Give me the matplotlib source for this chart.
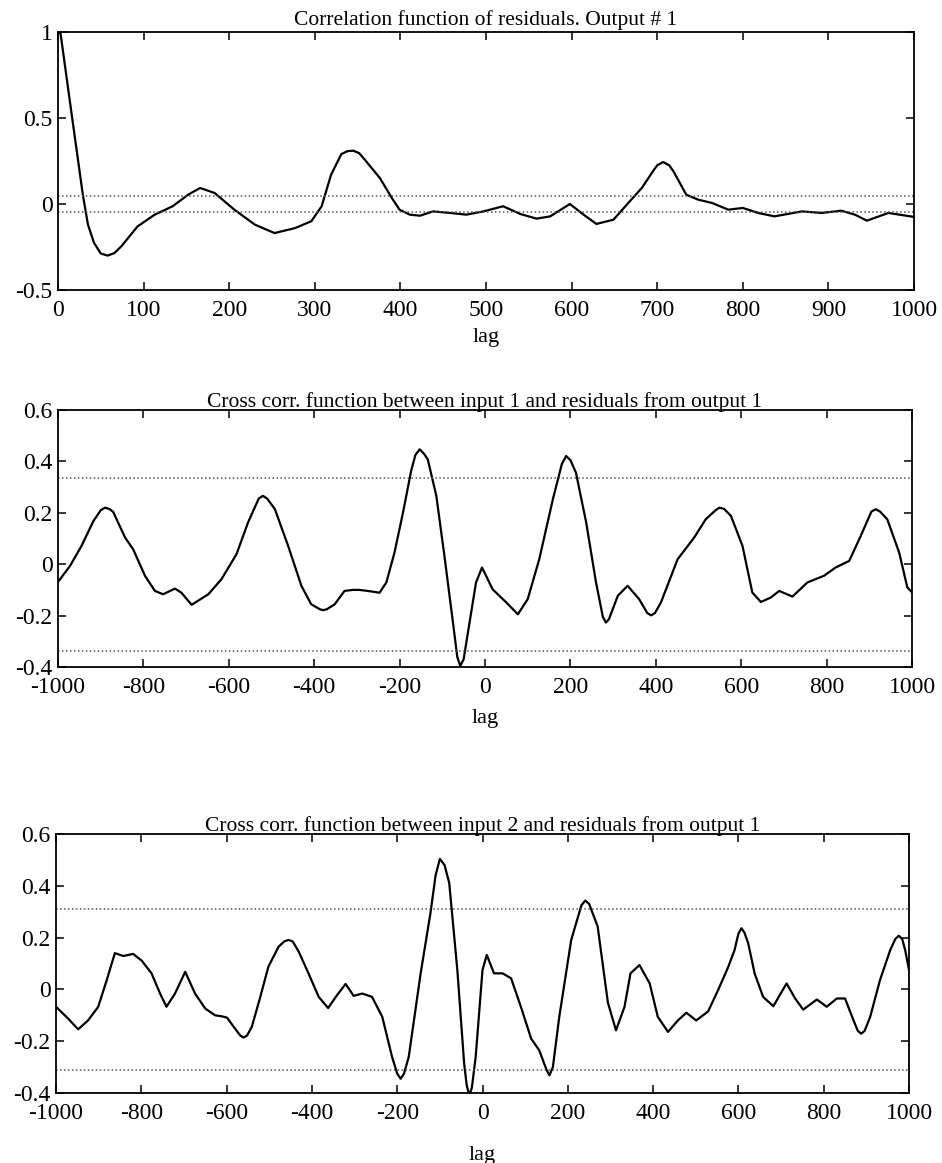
import matplotlib
matplotlib.use("Agg")
import matplotlib.pyplot as plt

plt.rcParams['font.family'] = ['Liberation Serif', 'DejaVu Serif']
plt.rcParams['axes.unicode_minus'] = False

# ---------------- data ----------------
titles = ["Correlation function of residuals. Output # 1",
          "Cross corr. function between input 1 and residuals from output 1",
          "Cross corr. function between input 2 and residuals from output 1"]
xlabel = "lag"

lag1 = [0, 3, 16, 29, 35, 42, 50, 58, 66, 74, 93, 113, 134, 152, 166, 183, 206, 230,
        253, 277, 296, 308, 319, 331, 338, 345, 352, 360, 376, 390, 399, 411, 423, 438,
        458, 477, 497, 520, 540, 559, 575, 598, 614, 629, 649, 668, 682, 695, 700, 707,
        714, 719, 734, 748, 764, 783, 800, 818, 837, 869, 892, 915, 931, 945, 970, 996,
        1000]
acf1 = [1.0, 0.99, 0.52, 0.054, -0.12, -0.225, -0.288, -0.30, -0.285, -0.246, -0.13,
        -0.062, -0.013, 0.054, 0.093, 0.064, -0.033, -0.12, -0.169, -0.14, -0.10,
        -0.013, 0.17, 0.29, 0.307, 0.31, 0.295, 0.248, 0.151, 0.035, -0.033, -0.062,
        -0.068, -0.043, -0.052, -0.062, -0.043, -0.013, -0.058, -0.085, -0.072, 0.0,
        -0.062, -0.116, -0.091, 0.016, 0.093, 0.19, 0.225, 0.244, 0.225, 0.19, 0.054,
        0.025, 0.006, -0.033, -0.023, -0.052, -0.072, -0.043, -0.052, -0.039, -0.062,
        -0.097, -0.052, -0.072, -0.075]
conf1 = 0.045

lag2 = [-1000, -972, -945, -917, -900, -890, -880, -871, -843, -824, -796, -773, -754,
        -726, -711, -687, -648, -617, -582, -555, -530, -520, -510, -492, -461, -430,
        -407, -387, -379, -370, -352, -329, -310, -294, -270, -247, -231, -212, -192,
        -173, -163, -153, -143, -134, -114, -95, -75, -65, -58, -50, -40, -21, -7, 18,
        50, 77, 100, 127, 159, 180, 190, 200, 213, 237, 260, 276, 283, 290, 311, 334,
        361, 380, 389, 398, 412, 451, 490, 517, 540, 549, 560, 576, 603, 626, 646, 669,
        689, 720, 755, 794, 821, 853, 880, 905, 915, 925, 942, 970, 989, 1000]
ccf2 = [-0.069, -0.007, 0.071, 0.168, 0.21, 0.22, 0.215, 0.204, 0.104, 0.058, -0.046,
        -0.104, -0.117, -0.095, -0.111, -0.158, -0.117, -0.058, 0.039, 0.162, 0.255,
        0.266, 0.255, 0.214, 0.071, -0.084, -0.156, -0.175, -0.179, -0.175, -0.156,
        -0.104, -0.10, -0.10, -0.105, -0.111, -0.071, 0.045, 0.201, 0.363, 0.425, 0.447,
        0.43, 0.408, 0.266, 0.032, -0.227, -0.36, -0.396, -0.37, -0.266, -0.071, -0.013,
        -0.098, -0.149, -0.195, -0.136, 0.019, 0.253, 0.39, 0.421, 0.405, 0.356, 0.162,
        -0.071, -0.205, -0.227, -0.215, -0.123, -0.084, -0.136, -0.19, -0.199, -0.19,
        -0.149, 0.019, 0.104, 0.175, 0.21, 0.22, 0.215, 0.188, 0.071, -0.110, -0.147,
        -0.130, -0.104, -0.126, -0.071, -0.045, -0.013, 0.013, 0.110, 0.205, 0.214,
        0.205, 0.175, 0.045, -0.09, -0.11]
conf2 = 0.337

lag3 = [-1000, -972, -948, -925, -901, -881, -862, -842, -819, -799, -776, -756, -741,
        -721, -697, -674, -650, -627, -611, -599, -580, -568, -560, -552, -541, -521,
        -502, -478, -465, -455, -445, -431, -408, -384, -362, -341, -321, -302, -282,
        -259, -235, -212, -200, -192, -184, -173, -145, -122, -110, -100, -89, -78, -59,
        -43, -37, -31, -25, -16, 0, 10, 27, 47, 67, 90, 114, 133, 150, 157, 165, 180,
        208, 232, 241, 250, 270, 294, 313, 333, 347, 368, 392, 411, 435, 458, 478, 501,
        529, 552, 576, 591, 600, 607, 614, 623, 638, 658, 682, 699, 713, 733, 752, 784,
        807, 831, 850, 870, 880, 888, 896, 909, 932, 956, 968, 976, 984, 991, 1000]
ccf3 = [-0.067, -0.112, -0.154, -0.12, -0.067, 0.036, 0.14, 0.129, 0.137, 0.111, 0.062,
        -0.016, -0.067, -0.016, 0.068, -0.016, -0.074, -0.1, -0.104, -0.109, -0.152,
        -0.178, -0.186, -0.178, -0.145, -0.029, 0.088, 0.165, 0.185, 0.191, 0.185,
        0.146, 0.062, -0.029, -0.072, -0.022, 0.021, -0.025, -0.016, -0.029, -0.106,
        -0.261, -0.325, -0.345, -0.325, -0.261, 0.062, 0.295, 0.44, 0.504, 0.48, 0.411,
        0.075, -0.287, -0.37, -0.41, -0.38, -0.261, 0.075, 0.133, 0.062, 0.062, 0.043,
        -0.067, -0.19, -0.235, -0.31, -0.332, -0.30, -0.106, 0.191, 0.325, 0.343, 0.33,
        0.243, -0.051, -0.158, -0.067, 0.062, 0.094, 0.023, -0.106, -0.164, -0.12,
        -0.09, -0.12, -0.085, -0.004, 0.086, 0.152, 0.215, 0.236, 0.22, 0.178, 0.062,
        -0.029, -0.065, -0.016, 0.023, -0.035, -0.078, -0.039, -0.067, -0.035, -0.035,
        -0.12, -0.16, -0.171, -0.16, -0.106, 0.036, 0.152, 0.195, 0.207, 0.195, 0.152,
        0.075]
conf3 = 0.31

xticks1 = [0, 100, 200, 300, 400, 500, 600, 700, 800, 900, 1000]
xticklabels1 = ["0", "100", "200", "300", "400", "500", "600", "700", "800", "900", "1000"]
yticks1 = [-0.5, 0, 0.5, 1]
yticklabels1 = ["-0.5", "0", "0.5", "1"]
xticks2 = [-1000, -800, -600, -400, -200, 0, 200, 400, 600, 800, 1000]
xticklabels2 = ["-1000", "-800", "-600", "-400", "-200", "0", "200", "400", "600", "800", "1000"]
yticks2 = [-0.4, -0.2, 0, 0.2, 0.4, 0.6]
yticklabels2 = ["-0.4", "-0.2", "0", "0.2", "0.4", "0.6"]

# ---------------- figure ----------------
W, H = 942, 1163
fig = plt.figure(figsize=(W / 100, H / 100), dpi=100)

def box(l, r, t, b):
    return [l / W, 1 - b / H, (r - l) / W, (b - t) / H]

panels = [
    dict(rect=box(58, 914, 32, 290), x=lag1, y=acf1, conf=conf1, xlim=(0, 1000),
         ylim=(-0.5, 1), xt=xticks1, xtl=xticklabels1, yt=yticks1, ytl=yticklabels1,
         title=titles[0], lpad=5, tpad=5),
    dict(rect=box(58, 912, 410, 667), x=lag2, y=ccf2, conf=conf2, xlim=(-1000, 1000),
         ylim=(-0.4, 0.6), xt=xticks2, xtl=xticklabels2, yt=yticks2, ytl=yticklabels2,
         title=titles[1], lpad=8, tpad=2),
    dict(rect=box(56, 909, 834, 1093), x=lag3, y=ccf3, conf=conf3, xlim=(-1000, 1000),
         ylim=(-0.4, 0.6), xt=xticks2, xtl=xticklabels2, yt=yticks2, ytl=yticklabels2,
         title=titles[2], lpad=16, tpad=2),
]

for p in panels:
    ax = fig.add_axes(p['rect'])
    ax.plot(p['x'], p['y'], color='black', lw=1.6, solid_joinstyle='round')
    ax.axhline(p['conf'], color='#555555', lw=1.1, ls=(0, (1, 1.6)))
    ax.axhline(-p['conf'], color='#555555', lw=1.1, ls=(0, (1, 1.6)))
    ax.set_xlim(*p['xlim'])
    ax.set_ylim(*p['ylim'])
    ax.set_xticks(p['xt'])
    ax.set_xticklabels(p['xtl'])
    ax.set_yticks(p['yt'])
    ax.set_yticklabels(p['ytl'])
    ax.tick_params(direction='in', top=True, right=True, length=6, width=1.1,
                   labelsize=17, pad=7)
    ax.tick_params(axis='y', pad=4)
    for s in ax.spines.values():
        s.set_linewidth(1.3)
    ax.set_title(p['title'], fontsize=15.5, pad=p['tpad'])
    ax.set_xlabel(xlabel, fontsize=16, labelpad=p['lpad'])

fig.savefig("out.png", dpi=100)
